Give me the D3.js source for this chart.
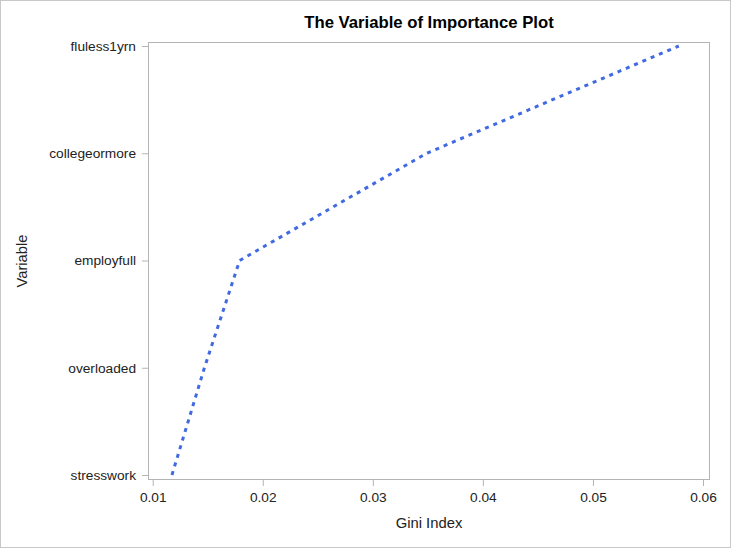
<!DOCTYPE html>
<html>
<head>
<meta charset="utf-8">
<script src="https://cdn.jsdelivr.net/npm/d3@7"></script>
<style>
  html, body { margin: 0; padding: 0; background: #fff; }
  svg { display: block; font-family: "Liberation Sans", Arial, sans-serif; }
</style>
</head>
<body>
<svg id="chart" width="731" height="548"></svg>
<script>
// Data
const variables = ["stresswork", "overloaded", "employfull", "collegeormore", "fluless1yrn"];
const giniValues = [0.01175, 0.0147, 0.0179, 0.0349, 0.0578];
const xTicks = [0.01, 0.02, 0.03, 0.04, 0.05, 0.06];
const titleText = "The Variable of Importance Plot";
const xLabel = "Gini Index";
const yLabel = "Variable";

const svg = d3.select("#chart");
const W = 731, H = 548;

// outer border
svg.append("rect").attr("x", 0.5).attr("y", 0.5).attr("width", W - 1).attr("height", H - 1)
  .attr("fill", "#fff").attr("stroke", "#c8c8c8");

const plot = { left: 148, right: 710, top: 42, bottom: 480 };

const x = d3.scaleLinear()
  .domain([0.01 - 4.7 / 11020, 0.06 + 7 / 11020])
  .range([plot.left, plot.right]);

const y = d3.scalePoint()
  .domain(variables)
  .range([475, 46]);

// frame
svg.append("rect")
  .attr("x", plot.left + 0.5).attr("y", plot.top + 0.5)
  .attr("width", plot.right - plot.left - 1).attr("height", plot.bottom - plot.top - 1)
  .attr("fill", "none").attr("stroke", "#b4b4b4").attr("stroke-width", 1);

// x axis
const xAxis = svg.append("g")
  .attr("transform", `translate(0,${plot.bottom})`)
  .call(d3.axisBottom(x).tickValues(xTicks).tickFormat(d3.format(".2f")).tickSize(6).tickPadding(6));
xAxis.select(".domain").remove();
xAxis.selectAll(".tick line").attr("stroke", "#b4b4b4");
xAxis.selectAll(".tick text").attr("fill", "#222").style("font-size", "13.7px");

// y axis
const yAxis = svg.append("g")
  .attr("transform", `translate(${plot.left},0)`)
  .call(d3.axisLeft(y).tickSize(6).tickPadding(6));
yAxis.select(".domain").remove();
yAxis.selectAll(".tick line").attr("stroke", "#b4b4b4");
yAxis.selectAll(".tick text").attr("fill", "#222").style("font-size", "13.7px");

// line
const pts = variables.map((v, i) => ({ v, g: giniValues[i] }));
svg.append("path")
  .datum(pts)
  .attr("fill", "none")
  .attr("stroke", "#4169e1")
  .attr("stroke-width", 3)
  .attr("stroke-dasharray", "4,5")
  .attr("d", d3.line().x(d => x(d.g)).y(d => y(d.v)));

// title
svg.append("text")
  .attr("x", (plot.left + plot.right) / 2).attr("y", 28)
  .attr("text-anchor", "middle")
  .style("font-size", "16.7px").style("font-weight", "bold").attr("fill", "#000")
  .text(titleText);

// x label
svg.append("text")
  .attr("x", (plot.left + plot.right) / 2).attr("y", 528)
  .attr("text-anchor", "middle")
  .style("font-size", "14.8px").attr("fill", "#222")
  .text(xLabel);

// y label
svg.append("text")
  .attr("transform", `translate(27,${(plot.top + plot.bottom) / 2}) rotate(-90)`)
  .attr("text-anchor", "middle")
  .style("font-size", "14.8px").attr("fill", "#222")
  .text(yLabel);
</script>
</body>
</html>
